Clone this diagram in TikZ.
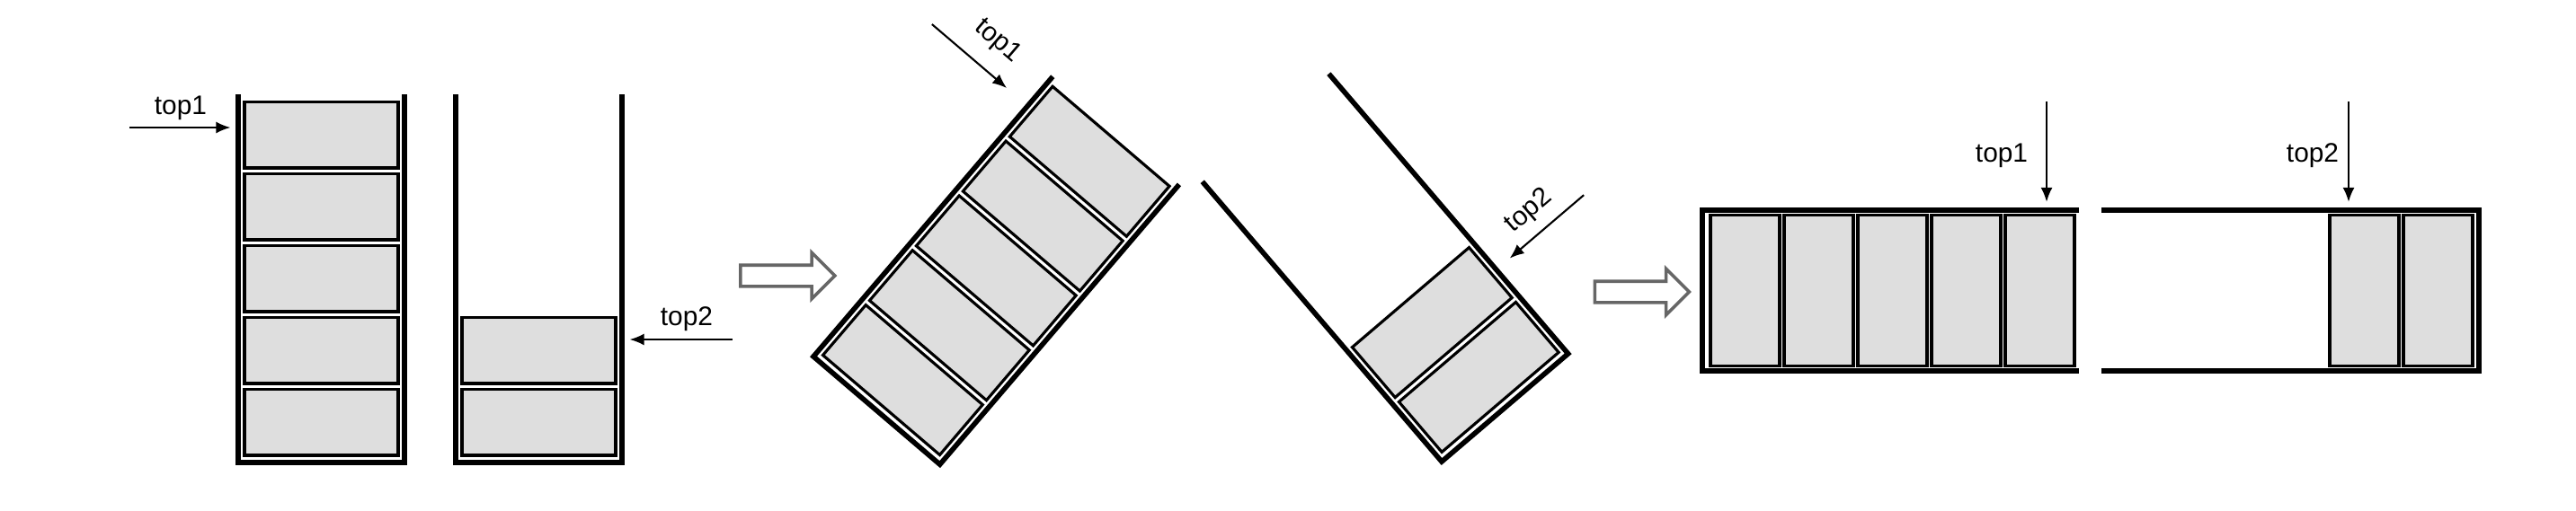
\documentclass[tikz,border=0pt]{standalone}
\usepackage{fontspec}
\setmainfont{Liberation Sans}
\usepackage{tikz}
\usetikzlibrary{arrows.meta,shapes.arrows}

\tikzset{
  wall/.style={line width=1.6pt},
  cell/.style={draw,line width=.9pt,fill=black!13,inner sep=0pt,
    minimum width=1.71cm,minimum height=.735cm},
  bar/.style={cell,minimum width=.77cm,minimum height=1.68cm},
  ptr/.style={-{Latex[length=1.6mm,width=1.3mm]},line width=.6pt},
  lbl/.style={font=\fontsize{8.5}{10}\selectfont,inner sep=0pt},
  hollow/.style={single arrow,draw=black!60,line width=1pt,fill=white,
    inner sep=.1cm,single arrow head extend=.14cm,minimum height=1.05cm}
}

\begin{document}
\begin{tikzpicture}
  \useasboundingbox (0,0) rectangle (28.66,5.68);
  % two stacks side by side
  \node[cell] at(3.575,0.9775)(a1){};
  \node[cell] at(3.575,1.7775)(a2){};
  \node[cell] at(3.575,2.5775)(a3){};
  \node[cell] at(3.575,3.3775)(a4){};
  \node[cell] at(3.575,4.1775)(a5){};
  \draw [wall](2.65,4.63) -- (2.65,0.53) -- (4.50,0.53) -- (4.50,4.63);
  \node[cell] at(5.995,0.9775)(b1){};
  \node[cell] at(5.995,1.7775)(b2){};
  \draw [wall](5.07,4.63) -- (5.07,0.53) -- (6.92,0.53) -- (6.92,4.63);
  \coordinate (p1t1) at(1.44,4.26);
  \draw [ptr,shorten >=.14cm](p1t1) -- (p1t1 -| a5.west);
  \node[lbl] at(2.01,4.48)(p1l1){top1};
  \coordinate (p1t2) at(8.15,1.90);
  \draw [ptr,shorten >=.14cm](p1t2) -- (p1t2 -| b2.east);
  \node[lbl] at(7.64,2.13)(p1l2){top2};
  \node[hollow] at(8.705,2.61)(go1){};
  % tilted stacks
  \begin{scope}[shift={(9.05,1.71)},rotate=-40.5,transform shape]
    \node[cell] at(0.925,0.4475)(ra1){};
    \node[cell] at(0.925,1.2475)(ra2){};
    \node[cell] at(0.925,2.0475)(ra3){};
    \node[cell] at(0.925,2.8475)(ra4){};
    \node[cell] at(0.925,3.6475)(ra5){};
    \draw [wall](0,4.10) -- (0,0) -- (1.85,0) -- (1.85,4.10);
    \coordinate (p2t1) at(-1.40,3.67);
    \draw [ptr,shorten >=.36cm](p2t1) -- (p2t1 -| ra5.west);
    \node[lbl] at(-0.72,4.00)(p2l1){top1};
  \end{scope}
  \begin{scope}[shift={(16.04,0.54)},rotate=40.5,transform shape]
    \node[cell] at(0.925,0.4475)(rb1){};
    \node[cell] at(0.925,1.2475)(rb2){};
    \draw [wall](0,4.10) -- (0,0) -- (1.85,0) -- (1.85,4.10);
    \coordinate (p2t2) at(3.13,1.23);
    \draw [ptr,shorten >=.25cm](p2t2) -- (p2t2 -| rb2.east);
    \node[lbl] at(2.55,1.49)(p2l2){top2};
  \end{scope}
  \node[hollow] at(18.21,2.43)(go2){};
  % laid flat
  \node[bar] at(19.415,2.445)(c1){};
  \node[bar] at(20.235,2.445)(c2){};
  \node[bar] at(21.055,2.445)(c3){};
  \node[bar] at(21.875,2.445)(c4){};
  \node[bar] at(22.695,2.445)(c5){};
  \draw [wall](23.13,3.34) -- (18.94,3.34) -- (18.94,1.55) -- (23.13,1.55);
  \node[bar] at(26.305,2.445)(d1){};
  \node[bar] at(27.125,2.445)(d2){};
  \draw [wall](23.38,3.34) -- (27.58,3.34) -- (27.58,1.55) -- (23.38,1.55);
  \coordinate (p3t1) at(22.77,4.55);
  \draw [ptr,shorten >=.13cm](p3t1) -- (p3t1 |- c5.north);
  \node[lbl] at(22.27,3.95)(p3l1){top1};
  \coordinate (p3t2) at(26.13,4.55);
  \draw [ptr,shorten >=.13cm](p3t2) -- (p3t2 |- d1.north);
  \node[lbl] at(25.73,3.95)(p3l2){top2};
\end{tikzpicture}
\end{document}
